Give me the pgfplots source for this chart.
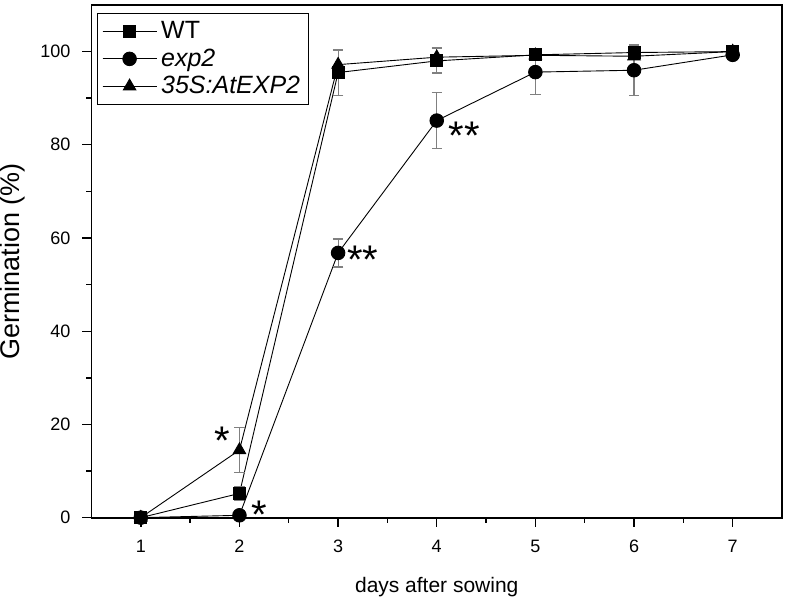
\documentclass[border=0pt]{standalone}
\usepackage{pgfplots}
\pgfplotsset{compat=1.18}
\usepackage{fontspec}
\setmainfont{Liberation Sans}

\begin{document}
\begin{tikzpicture}
\begin{axis}[
  scale only axis,
  width=345.5pt, height=256.5pt,
  xmin=0.5, xmax=7.5, ymin=0, ymax=110,
  xtick={1,...,7}, ytick={0,20,...,100},
  minor xtick={1.5,2.5,...,6.5}, minor ytick={10,30,...,90},
  tick pos=left,
  tick align=outside,
  major tick length=4.5pt, minor tick length=2.5pt,
  every tick/.style={black, line width=0.7pt},
  axis line style={line width=0.9pt},
  /pgf/number format/assume math mode=true,
  tick label style={font=\fontsize{9}{10}\selectfont},
  xticklabel style={yshift=-3pt},
  yticklabel style={xshift=-2.5pt},
  xlabel={days after sowing}, ylabel={Germination (\%)},
  xlabel style={font=\fontsize{10.5}{12}\selectfont, yshift=-5.5pt},
  ylabel style={font=\fontsize{13.5}{15}\selectfont, at={(axis description cs:0,0.5)},
    anchor=south, inner sep=0pt, yshift=33pt},
  clip=false,
  legend style={at={(0,1)}, xshift=3pt, yshift=-4pt, anchor=north west, draw=black, line width=0.5pt,
    font=\fontsize{12.5}{14}\selectfont, row sep=-0.5pt, inner sep=2pt},
  legend cell align=left,
  legend image code/.code={
    \draw[gray, line width=0.6pt] (0cm,0cm) -- (0.95cm,0cm);
    \draw[mark repeat=2,mark phase=2, #1] plot coordinates {(0cm,0cm) (0.475cm,0cm) (0.95cm,0cm)};
  },
  every axis plot/.append style={line width=0.45pt,
    error bars/y dir=both, error bars/y explicit,
    error bars/error bar style={gray, line width=0.6pt},
    error bars/error mark options={rotate=90, gray, mark size=2.6pt, line width=0.6pt}},
]
\addplot[black, mark=square*, mark size=3pt, mark options={black, solid}] coordinates {
  (1,0) +- (0,0.3)
  (2,5.2) +- (0,1.5)
  (3,95.5) +- (0,5.0)
  (4,98.0) +- (0,2.6)
  (5,99.3) +- (0,0.6)
  (6,99.8) +- (0,1.5)
  (7,100) +- (0,0.3)
};
\addlegendentry{WT}
\addplot[black, mark=*, mark size=3.4pt, mark options={black, solid}] coordinates {
  (1,0) +- (0,0.2)
  (2,0.5) +- (0,0.5)
  (3,56.8) +- (0,3.0)
  (4,85.2) +- (0,6.0)
  (5,95.6) +- (0,4.8)
  (6,96.0) +- (0,5.5)
  (7,99.3) +- (0,1.0)
};
\addlegendentry{\textit{exp2}}
\addplot[black, mark=triangle*, mark size=3.6pt, mark options={black, solid}] coordinates {
  (1,0) +- (0,0.2)
  (2,14.5) +- (0,4.8)
  (3,97.2) +- (0,3.0)
  (4,98.8) +- (0,2.0)
  (5,99.2) +- (0,0.5)
  (6,99.0) +- (0,0.5)
  (7,100) +- (0,0.3)
};
\addlegendentry{\textit{35S:AtEXP2}}

\begin{scope}[every node/.style={font=\fontsize{20}{20}\selectfont, inner sep=0pt, yshift=-4pt}]
\node at (axis cs:1.83,18.2) {*};
\node at (axis cs:2.20,2.4) {*};
\node at (axis cs:3.25,57.0) {**};
\node at (axis cs:4.28,83.7) {**};
\end{scope}
\path (rel axis cs:1,1) ++(2.5pt,2.5pt);
\end{axis}
\end{tikzpicture}
\end{document}
